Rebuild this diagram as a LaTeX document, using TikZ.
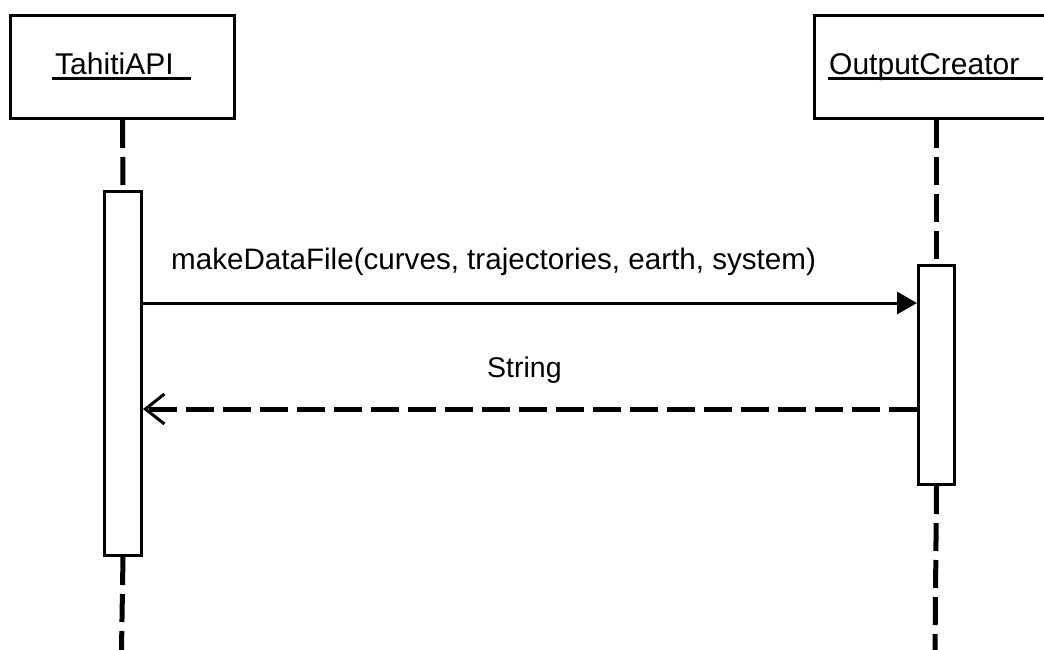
\documentclass[tikz,border=0pt]{standalone}
\usepackage{fontspec}
\setmainfont{Liberation Sans}
\usetikzlibrary{arrows.meta}
\begin{document}
\begin{tikzpicture}[x=1pt,y=-1pt,
  objbox/.style={draw, line width=3pt, inner sep=0pt, anchor=north west, fill=white},
  actbox/.style={draw, line width=3pt, inner sep=0pt, anchor=north west, fill=white},
  lbl/.style={font=\fontsize{30}{34}\selectfont, inner sep=0pt, anchor=base west},
  msglbl/.style={font=\fontsize{29.6}{34}\selectfont, inner sep=0pt, anchor=base west},
  life/.style={line width=5pt, dash pattern=on 28pt off 9pt},
  uline/.style={line width=3pt},
  callmsg/.style={line width=3pt, -{Triangle[length=20pt,width=22pt]}},
  retmsg/.style={line width=5pt, dash pattern=on 28pt off 9pt, -{Straight Barb[length=19pt,width=30pt,line width=3pt]}}]
\useasboundingbox (0,0) rectangle (1044,650);
% objects
\node[objbox, minimum width=224pt, minimum height=103pt] (A) at (9,14) {};
\node[objbox, minimum width=244pt, minimum height=103pt] (B) at (813,14) {};
\node[lbl] (tA) at (55,75) {TahitiAPI};
\node[lbl] (tB) at (829,75) {OutputCreator};
\draw[uline] ([xshift=-3pt,yshift=-4pt]tA.base west) -- ([xshift=17pt,yshift=-4pt]tA.base east);
\draw[uline] ([xshift=-1pt,yshift=-4pt]tB.base west) -- ([xshift=23pt,yshift=-4pt]tB.base east);
% activations
\node[actbox, minimum width=37pt, minimum height=364pt] (actA) at (103,190) {};
\node[actbox, minimum width=36pt, minimum height=219pt] (actB) at (917,264) {};
% lifelines
\coordinate (endA) at (121.5,650);
\coordinate (endB) at (935,650);
\draw[life] (A.south) -- (actA.north);
\draw[life] (actA.south) -- (endA);
\draw[life] (B.south -| actB.north) -- (actB.north);
\draw[life] (actB.south) -- (endB);
% messages
\coordinate (y1) at (0,303);
\coordinate (y2) at (0,409);
\draw[callmsg] (actA.east |- y1) -- (actB.west |- y1);
\draw[retmsg] (actB.west |- y2) -- (actA.east |- y2);
\node[msglbl] (m1) at (171,269) {makeDataFile(curves, trajectories, earth, system)};
\node[msglbl, font=\fontsize{28.5}{32}\selectfont] (m2) at (487,377) {String};
\end{tikzpicture}
\end{document}
